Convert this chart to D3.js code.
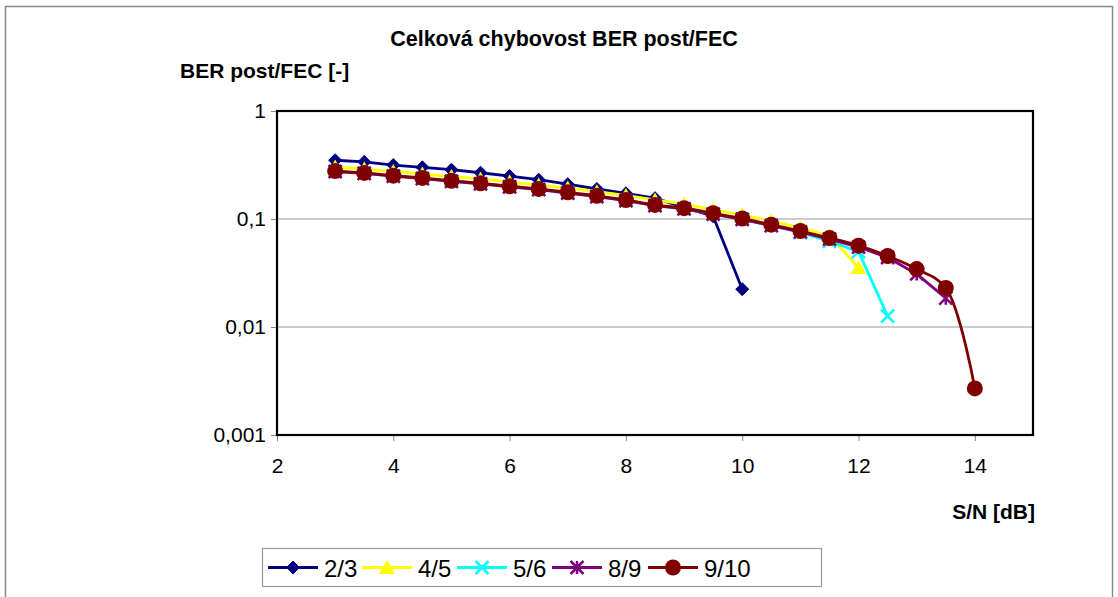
<!DOCTYPE html>
<html><head><meta charset="utf-8">
<script src="https://cdn.jsdelivr.net/npm/d3@7"></script>
<style>body{margin:0;background:#fff;} svg{display:block;font-family:"Liberation Sans",Arial,sans-serif;}</style>
</head><body>
<svg id="c" width="1118" height="597"></svg>
<script>
const snr = [3,3.5,4,4.5,5,5.5,6,6.5,7,7.5,8,8.5,9,9.5,10,10.5,11,11.5,12,12.5,13,13.5,14];
const ber23 = [0.350,0.338,0.316,0.301,0.286,0.268,0.250,0.231,0.210,0.190,0.173,0.156,0.128,0.106,0.0224];
const ber45 = [0.303,0.290,0.276,0.261,0.247,0.235,0.220,0.206,0.194,0.179,0.165,0.150,0.137,0.122,0.109,0.096,0.083,0.070,0.0355];
const ber56 = [0.276,0.265,0.250,0.238,0.224,0.212,0.199,0.188,0.175,0.162,0.148,0.133,0.124,0.111,0.099,0.087,0.075,0.062,0.050,0.0126];
const ber89 = [0.275,0.264,0.249,0.237,0.223,0.211,0.198,0.187,0.174,0.161,0.148,0.133,0.124,0.111,0.099,0.087,0.076,0.065,0.055,0.044,0.031,0.0185];
const ber910 = [0.278,0.267,0.252,0.240,0.226,0.214,0.201,0.190,0.177,0.164,0.150,0.135,0.126,0.113,0.101,0.0886,0.0774,0.0667,0.0566,0.0454,0.0344,0.0230,0.0027];
const seriesNames = ["2/3","4/5","5/6","8/9","9/10"];
const xTicks = [2,4,6,8,10,12,14];
const yTicks = [1,0.1,0.01,0.001];
const yTickLabels = ["1","0,1","0,01","0,001"];

const series = [
  {name:"2/3", vals:ber23, color:"#000080", marker:"diamond", smooth:false},
  {name:"4/5", vals:ber45, color:"#FFFF00", marker:"triangle", smooth:false},
  {name:"5/6", vals:ber56, color:"#00FFFF", marker:"x", smooth:false},
  {name:"8/9", vals:ber89, color:"#800080", marker:"star", smooth:false},
  {name:"9/10", vals:ber910, color:"#800000", marker:"circle", smooth:true}
];

const svg = d3.select("#c");
const L=277, R=1033, T=111, B=435;
const x = d3.scaleLinear().domain([2,15]).range([L,R]);
const y = d3.scaleLog().domain([0.001,1]).range([B,T]);

// outer border
svg.append("rect").attr("x",5.5).attr("y",6.5).attr("width",1107).attr("height",600)
  .attr("fill","none").attr("stroke","#888").attr("stroke-width",1.5);

// gridlines
svg.append("g").selectAll("line").data([0.1,0.01]).join("line")
  .attr("x1",L).attr("x2",R).attr("y1",d=>y(d)).attr("y2",d=>y(d))
  .attr("stroke","#999").attr("stroke-width",1.2);

// axes
const yAxis = d3.axisLeft(y).tickValues(yTicks).tickFormat((d,i)=>yTickLabels[i]).tickSize(6).tickPadding(5);
const gy = svg.append("g").attr("transform",`translate(${L},0)`).call(yAxis);
gy.select(".domain").remove();
gy.selectAll(".tick line").attr("stroke","#888");
gy.selectAll(".tick text").attr("font-size",21).attr("fill","#000").style("font-family","Liberation Sans, Arial");

const xAxis = d3.axisBottom(x).tickValues(xTicks).tickSize(6).tickPadding(17);
const gx = svg.append("g").attr("transform",`translate(0,${B})`).call(xAxis);
gx.select(".domain").remove();
gx.selectAll(".tick line").attr("stroke","#888");
gx.selectAll(".tick text").attr("font-size",21).attr("fill","#000").style("font-family","Liberation Sans, Arial");

// plot frame
svg.append("rect").attr("x",L).attr("y",T).attr("width",R-L).attr("height",B-T)
  .attr("fill","none").attr("stroke","#000").attr("stroke-width",2.2);

function drawMarker(g, type, color, cx, cy, s){
  const k = s||1;
  if(type==="diamond"){
    g.append("path").attr("d",`M${cx},${cy-6.5*k}L${cx+6.5*k},${cy}L${cx},${cy+6.5*k}L${cx-6.5*k},${cy}Z`).attr("fill",color).attr("stroke",color).attr("stroke-width",1);
  } else if(type==="triangle"){
    g.append("path").attr("d",`M${cx},${cy-7.5*k}L${cx+8*k},${cy+6.5*k}L${cx-8*k},${cy+6.5*k}Z`).attr("fill",color);
  } else if(type==="x"){
    const r=6.5*k;
    g.append("path").attr("d",`M${cx-r},${cy-r}L${cx+r},${cy+r}M${cx-r},${cy+r}L${cx+r},${cy-r}`).attr("stroke",color).attr("stroke-width",2.5).attr("fill","none");
  } else if(type==="star"){
    const r=6.5*k;
    g.append("path").attr("d",`M${cx-r},${cy-r}L${cx+r},${cy+r}M${cx-r},${cy+r}L${cx+r},${cy-r}M${cx},${cy-r}L${cx},${cy+r}`).attr("stroke",color).attr("stroke-width",2.5).attr("fill","none");
  } else {
    g.append("circle").attr("cx",cx).attr("cy",cy).attr("r",8*k).attr("fill",color);
  }
}

const plot = svg.append("g");
series.forEach(s=>{
  const pts = s.vals.map((v,i)=>[snr[i],v]);
  const line = d3.line().x(d=>x(d[0])).y(d=>y(d[1])).curve(s.smooth?d3.curveCatmullRom.alpha(0.5):d3.curveLinear);
  plot.append("path").attr("d",line(pts)).attr("fill","none").attr("stroke",s.color).attr("stroke-width",2.8).attr("stroke-linejoin","round");
  const mg = plot.append("g");
  pts.forEach(p=>drawMarker(mg,s.marker,s.color,x(p[0]),y(p[1])));
});

// titles
svg.append("text").attr("x",564).attr("y",46).attr("text-anchor","middle").attr("font-size",21.5).attr("font-weight","bold").text("Celková chybovost BER post/FEC");
svg.append("text").attr("x",180).attr("y",78).attr("font-size",21).attr("font-weight","bold").text("BER post/FEC [-]");
svg.append("text").attr("x",1035).attr("y",519).attr("text-anchor","end").attr("font-size",21).attr("font-weight","bold").text("S/N [dB]");

// legend
const lg = svg.append("g");
lg.append("rect").attr("x",262.5).attr("y",548.5).attr("width",559).attr("height",38).attr("fill","#fff").attr("stroke","#999").attr("stroke-width",1.2);
const itemX = [268,362,457,552,648];
series.forEach((s,i)=>{
  const x0 = itemX[i], cy = 567.5;
  lg.append("line").attr("x1",x0).attr("x2",x0+50).attr("y1",cy).attr("y2",cy).attr("stroke",s.color).attr("stroke-width",2.8);
  drawMarker(lg,s.marker,s.color,x0+25,cy,1);
  lg.append("text").attr("x",x0+56).attr("y",cy+9).attr("font-size",24).text(seriesNames[i]);
});
</script>
</body></html>
